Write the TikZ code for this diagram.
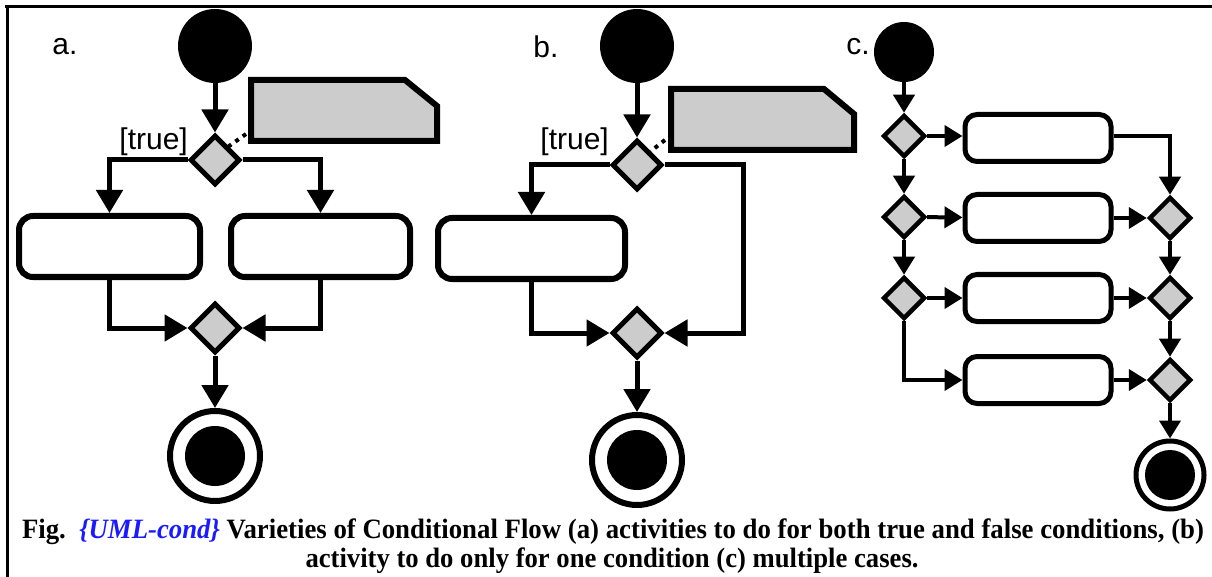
\documentclass[tikz,border=0pt]{standalone}
\usepackage{fontspec}
\usepackage{graphicx}
\setmainfont{Liberation Serif}
\newfontfamily\labelfont{Liberation Sans}
\usetikzlibrary{arrows.meta,shapes.geometric}
\definecolor{notegray}{HTML}{CCCCCC}
\definecolor{capblue}{HTML}{1A1AFF}

\tikzset{
  % connectors of panels a and b
  flow/.style={line width=5pt, -{Triangle[width=26pt,length=23pt]}},
  % thinner connectors of panel c
  flowc/.style={line width=4pt, -{Triangle[width=21pt,length=18pt]}},
  startnode/.style={circle, fill=black, inner sep=0pt, minimum size=#1},
  decision/.style={diamond, draw=black, fill=notegray, line width=5pt,
    inner sep=0pt, minimum size=#1, aspect=1},
  activity/.style={rectangle, rounded corners=14pt, draw=black, fill=white,
    line width=6pt, inner sep=0pt, minimum width=181pt, minimum height=61pt},
  activityc/.style={rectangle, rounded corners=12pt, draw=black, fill=white,
    line width=5pt, inner sep=0pt, minimum width=146pt, minimum height=47pt},
  endnode/.style 2 args={circle, draw=black, line width=6pt, fill=white,
    inner sep=0pt, minimum size=#1,
    path picture={\fill[black] (path picture bounding box.center) circle (#2);}},
  notebox/.style={draw=black, fill=notegray, line width=6pt, line join=miter},
  notelink/.style={line width=4pt, dash pattern=on 4pt off 5pt},
  panellabel/.style={font=\labelfont\fontsize{30}{33}\selectfont, inner sep=0pt},
  guard/.style={font=\labelfont\fontsize{30}{33}\selectfont, inner sep=0pt},
  caption/.style={font=\fontsize{28}{32}\bfseries\selectfont, inner sep=0pt, anchor=base},
}

\begin{document}
\begin{tikzpicture}[x=1pt, y=-1pt]
\useasboundingbox (0,0) rectangle (1212,577);
\fill[white] (0,0) rectangle (1212,577);

% frame: top and left rules
\draw[line width=3pt] (5,7) -- (1212,7);
\draw[line width=3pt] (7,5) -- (7,577);

% ---------- panel a ----------
\node[panellabel] (la) at (65,47) {a.};
\node[startnode=74pt] (ia) at (215,46) {};
\node[decision=50pt] (da) at (215,160) {};
\node[guard, anchor=east] (ta) at (188,142) {[true]};
\node[activity] (aa1) at (109.5,246.5) {};
\node[activity, minimum width=179pt] (aa2) at (320.5,246.5) {};
\node[decision=50pt] (ma) at (215,328) {};
\node[endnode={90pt}{30pt}] (fa) at (215,456) {};

\draw[notebox] (251,80) -- (405,80) -- (437,106) -- (437,141) -- (251,141) -- cycle;
\coordinate (na) at (246,134);
\draw[notelink] (na) -- (da.north east);

\draw[flow] (ia) -- (da);
\draw[flow] (da.west) -| (aa1.north);
\draw[flow] (da.east) -| (aa2.north);
\draw[flow] (aa1.south) |- (ma.west);
\draw[flow] (aa2.south) |- (ma.east);
\draw[flow] (ma) -- (fa);

% ---------- panel b ----------
\node[panellabel] (lb) at (546,47) {b.};
\node[startnode=74pt] (ib) at (637,46) {};
\node[decision=50pt] (db) at (637,165) {};
\node[guard, anchor=east] (tb) at (609,142) {[true]};
\node[activity, minimum width=187pt] (ab) at (531.5,248.5) {};
\node[decision=50pt] (mb) at (637,333) {};
\node[endnode={90pt}{30pt}] (fb) at (637,460) {};
\coordinate (bturn) at (743,333);

\draw[notebox] (671,89) -- (824,89) -- (854,114) -- (854,150) -- (671,150) -- cycle;
\coordinate (nb) at (665,140);
\draw[notelink] (nb) -- (db.north east);

\draw[flow] (ib) -- (db);
\draw[flow] (db.west) -| (ab.north);
\draw[flow] (db.east) -| (bturn) -- (mb.east);
\draw[flow] (ab.south) |- (mb.west);
\draw[flow] (mb) -- (fb);

% ---------- panel c ----------
\node[panellabel] (lc) at (858,47) {c.};
\node[startnode=60pt] (ic) at (904,52) {};
\node[decision=42pt, line width=4.5pt] (c1) at (904,136) {};
\node[decision=42pt, line width=4.5pt] (c2) at (904,217) {};
\node[decision=42pt, line width=4.5pt] (c3) at (904,298) {};
\node[activityc] (k1) at (1038,138) {};
\node[activityc] (k2) at (1038,218) {};
\node[activityc] (k3) at (1038,298) {};
\node[activityc] (k4) at (1038,380) {};
\node[decision=42pt, line width=4.5pt] (r2) at (1170,218) {};
\node[decision=42pt, line width=4.5pt] (r3) at (1170,298) {};
\node[decision=42pt, line width=4.5pt] (r4) at (1170,380) {};
\node[endnode={68pt}{25pt}, line width=5pt] (fc) at (1170,475) {};

\draw[flowc] (ic) -- (c1);
\draw[flowc] (c1) -- (c2);
\draw[flowc] (c2) -- (c3);
\draw[flowc] (c3.south) |- (k4.west);
\draw[flowc] (c1.east) -- (c1.east -| k1.west);
\draw[flowc] (c2) -- (k2);
\draw[flowc] (c3) -- (k3);
\draw[flowc] (k1.east |- c1.east) -| (r2.north);
\draw[flowc] (k2) -- (r2);
\draw[flowc] (r2) -- (r3);
\draw[flowc] (k3) -- (r3);
\draw[flowc] (r3) -- (r4);
\draw[flowc] (k4) -- (r4);
\draw[flowc] (r4) -- (fc);

% ---------- caption ----------
\node[caption] (cap1) at (613,538) {\resizebox{1182pt}{\height}{Fig.\ \ \textcolor{capblue}{\itshape\{UML-cond\}} Varieties of Conditional Flow (a) activities to do for both true and false conditions, (b)}};
\node[caption] (cap2) at (612,567) {\resizebox{613pt}{\height}{activity to do only for one condition (c) multiple cases.}};
\end{tikzpicture}
\end{document}
